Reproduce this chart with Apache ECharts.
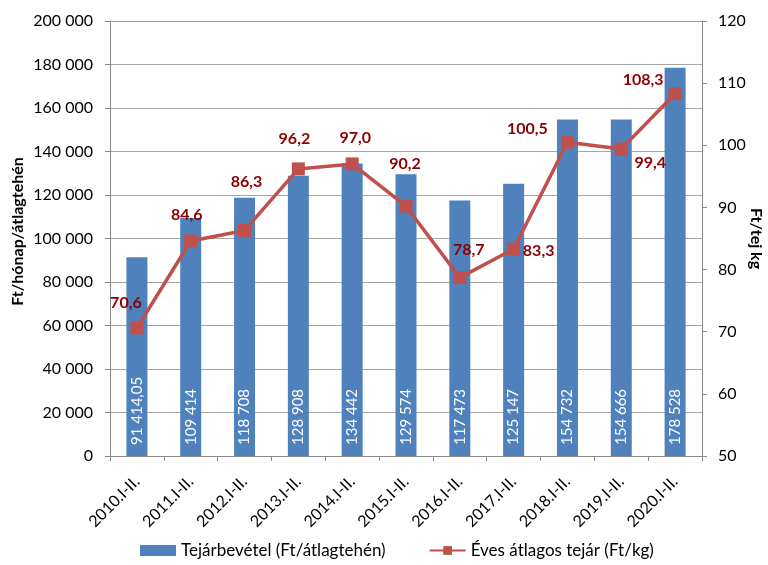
<!DOCTYPE html>
<html><head><meta charset="utf-8">
<script src="https://cdn.jsdelivr.net/npm/echarts@6/dist/echarts.min.js"></script>
<style>html,body{margin:0;padding:0;background:#fff}#c{width:768px;height:565px}</style>
</head><body><div id="c"></div>
<script>
const categories = ["2010.I-II.","2011.I-II.","2012.I-II.","2013.I-II.","2014.I-II.","2015.I-II.","2016.I-II.","2017.I-II.","2018.I-II.","2019.I-II.","2020.I-II."];
const revenue = [91414.05,109414,118708,128908,134442,129574,117473,125147,154732,154666,178528];
const price = [70.6,84.6,86.3,96.2,97.0,90.2,78.7,83.3,100.5,99.4,108.3];
// label placement (styling only): offset of each price label from its point, in px
const priceLabelOffset = [[-11,-25],[-4,-26],[2,-49],[-4,-30],[3,-26],[-1,-42],[9,-28],[25,2],[-40,-13],[29,14],[-32,-14]];

const FONT = "Lato, 'Liberation Sans', sans-serif";
function huNum(v, dec) {
  const s = dec ? v.toFixed(dec) : String(Math.round(v));
  const parts = s.split(".");
  const int = parts[0].replace(/\B(?=(\d{3})+(?!\d))/g, " ");
  return parts[1] ? int + "," + parts[1] : int;
}
const chart = echarts.init(document.getElementById('c'), null, {renderer:'canvas'});
chart.setOption({
  animation:false,
  textStyle:{fontFamily:FONT},
  grid:{left:110,right:66,top:21,bottom:109,containLabel:false,outerBoundsMode:'none'},
  legend:{
    top:542,left:140,itemGap:43,itemWidth:36,itemHeight:11,itemTextGap:4,padding:0,
    textStyle:{fontFamily:FONT,fontSize:17,color:'#000'},
    data:[{name:'Tejárbevétel (Ft/átlagtehén)',icon:'rect'},{name:'Éves átlagos tejár (Ft/kg)'}]
  },
  xAxis:{
    type:'category',data:categories,
    axisLine:{lineStyle:{color:'#888',width:1}},
    axisTick:{show:true,alignWithLabel:false,length:5,lineStyle:{color:'#888'}},
    axisLabel:{rotate:45,fontSize:16,color:'#000',fontFamily:FONT,margin:23,interval:0}
  },
  yAxis:[{
    type:'value',min:0,max:200000,interval:20000,
    name:'Ft/hónap/átlagtehén',nameLocation:'middle',nameRotate:90,nameGap:84,nameMoveOverlap:false,
    nameTextStyle:{fontWeight:'bold',fontSize:16,color:'#000',fontFamily:FONT,padding:[0,0,0,14]},
    axisLine:{show:true,lineStyle:{color:'#888'}},
    axisTick:{show:true,length:5,lineStyle:{color:'#888'}},
    splitLine:{show:true,lineStyle:{color:'#a6a6a6',width:1}},
    axisLabel:{fontSize:16,color:'#000',fontFamily:FONT,margin:17,formatter:v=>huNum(v)}
  },{
    type:'value',min:50,max:120,interval:10,position:'right',
    name:'Ft/tej kg',nameLocation:'middle',nameRotate:-90,nameGap:46,nameMoveOverlap:false,
    nameTextStyle:{fontWeight:'bold',fontSize:16,color:'#000',fontFamily:FONT},
    axisLine:{show:true,lineStyle:{color:'#888'}},
    axisTick:{show:true,length:5,lineStyle:{color:'#888'}},
    splitLine:{show:false},
    axisLabel:{fontSize:16,color:'#000',fontFamily:FONT,margin:16}
  }],
  series:[{
    name:'Tejárbevétel (Ft/átlagtehén)',type:'bar',yAxisIndex:0,
    data:revenue,barWidth:21,
    itemStyle:{color:'#4f81bd'},
    label:{show:true,position:'insideBottom',rotate:90,align:'left',verticalAlign:'middle',distance:11,
      color:'#fff',fontSize:15,fontFamily:FONT,
      formatter:p=>huNum(p.value, p.dataIndex===0?2:0)}
  },{
    name:'Éves átlagos tejár (Ft/kg)',type:'line',yAxisIndex:1,
    data:price.map((v,i)=>({value:v,label:{offset:priceLabelOffset[i]}})),
    symbol:'rect',symbolSize:13,
    lineStyle:{color:'#c0504d',width:3.5},
    itemStyle:{color:'#c0504d'},
    label:{show:true,position:'inside',align:'center',verticalAlign:'middle',color:'#8b0000',fontWeight:'bold',fontSize:16,fontFamily:FONT,
      formatter:p=>p.value.toFixed(1).replace('.',',')}
  }]
});
</script></body></html>
